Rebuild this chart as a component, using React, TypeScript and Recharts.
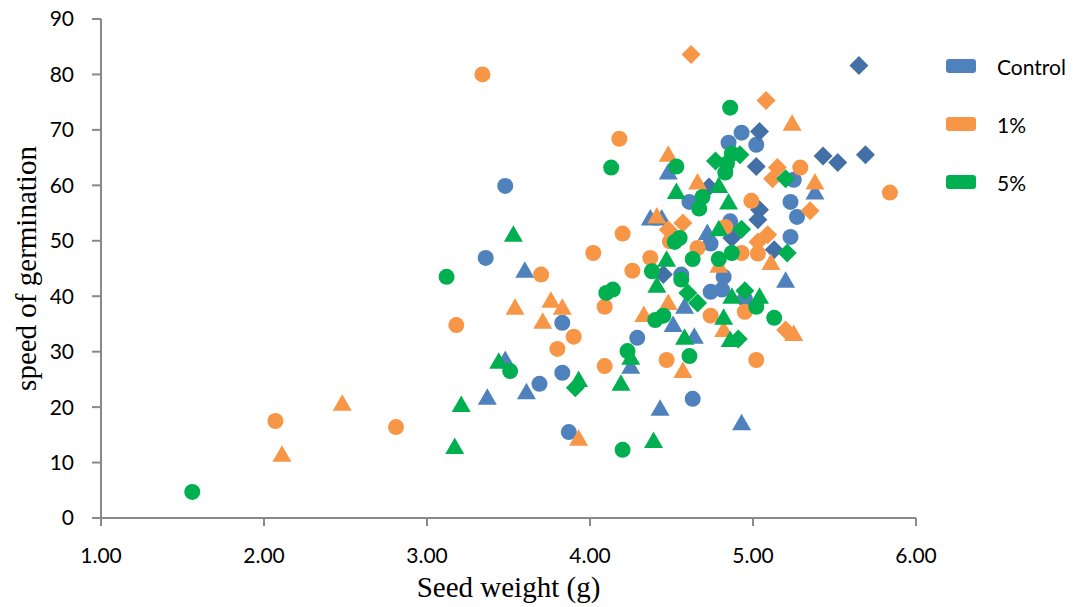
import React from "react";
import { ScatterChart, Scatter, XAxis, YAxis, Legend } from "recharts";

// ---- data: [seed weight (g), speed of germination] ----
const controlCircles = [
  [3.48, 59.9], [3.36, 46.9], [3.83, 35.2], [3.83, 26.2], [3.69, 24.2], [3.87, 15.5],
  [4.29, 32.5], [4.63, 21.5], [4.61, 57.0], [4.93, 69.5], [4.85, 67.7], [5.02, 67.3],
  [5.25, 61.0], [5.23, 57.0], [5.27, 54.3], [5.23, 50.7], [4.82, 43.5], [4.74, 40.8],
  [4.81, 41.2], [4.56, 43.9], [4.86, 53.5], [4.95, 39.5], [4.74, 49.5],
];
const controlTriangles = [
  [4.48, 62.3], [3.6, 44.6], [4.37, 54.0], [4.44, 54.0], [4.72, 51.4], [4.51, 34.8],
  [4.25, 27.3], [3.48, 28.5], [3.61, 22.7], [3.37, 21.7], [4.43, 19.7], [4.93, 17.1],
  [5.2, 42.8], [5.38, 58.7], [4.58, 38.1], [4.64, 32.7],
];
const controlDiamonds = [
  [5.65, 81.6], [5.04, 69.7], [5.43, 65.3], [5.52, 64.1], [5.69, 65.5], [5.02, 63.4],
  [4.73, 59.7], [5.04, 55.6], [5.03, 53.8], [4.87, 50.5], [5.13, 48.4], [4.45, 43.9],
];
const onePctCircles = [
  [2.07, 17.5], [2.81, 16.4], [3.34, 80.0], [4.18, 68.4], [3.7, 43.9], [4.02, 47.8],
  [4.2, 51.3], [4.37, 46.9], [4.26, 44.6], [4.09, 38.1], [3.18, 34.8], [3.9, 32.7],
  [3.8, 30.5], [4.47, 28.5], [4.09, 27.4], [4.99, 57.2], [5.29, 63.2], [5.84, 58.7],
  [4.83, 52.5], [5.03, 47.7], [4.93, 47.8], [4.66, 48.7], [4.95, 37.2], [4.74, 36.5],
  [5.02, 28.5], [4.49, 49.9],
];
const onePctTriangles = [
  [2.11, 11.4], [2.48, 20.6], [4.48, 65.5], [5.24, 71.1], [4.41, 54.4], [3.76, 39.2],
  [3.83, 37.9], [3.54, 37.9], [3.71, 35.4], [4.33, 36.6], [4.48, 38.8], [3.93, 14.3],
  [4.66, 60.5], [5.38, 60.5], [5.11, 46.0], [4.79, 45.5], [4.82, 33.9], [5.25, 33.2],
  [4.57, 26.5],
];
const onePctDiamonds = [
  [4.62, 83.6], [5.08, 75.3], [5.15, 63.2], [5.12, 61.2], [5.35, 55.4], [4.57, 53.2],
  [4.48, 52.0], [5.09, 51.1], [5.03, 49.8], [5.2, 33.9],
];
const fivePctCircles = [
  [1.56, 4.7], [3.12, 43.5], [3.51, 26.5], [4.13, 63.2], [4.53, 63.4], [4.1, 40.6],
  [4.14, 41.2], [4.38, 44.5], [4.4, 35.7], [4.45, 36.5], [4.23, 30.1], [4.2, 12.3],
  [4.86, 74.0], [4.87, 65.7], [4.84, 63.9], [4.83, 62.3], [4.69, 57.9], [4.67, 55.8],
  [4.55, 50.5], [4.52, 49.8], [4.87, 47.8], [4.79, 46.7], [4.63, 46.7], [4.56, 43.0],
  [5.02, 38.1], [5.13, 36.1], [4.61, 29.2],
];
const fivePctTriangles = [
  [4.53, 58.8], [3.53, 51.1], [4.47, 46.6], [4.41, 41.9], [4.25, 28.9], [3.44, 28.2],
  [3.93, 24.9], [4.19, 24.2], [3.21, 20.4], [4.39, 13.9], [3.17, 12.8], [4.79, 59.9],
  [4.85, 56.9], [4.79, 52.1], [4.87, 39.9], [5.04, 39.9], [4.82, 36.1], [4.58, 32.5],
  [4.86, 32.1],
];
const fivePctDiamonds = [
  [4.92, 65.5], [4.77, 64.4], [5.2, 61.2], [4.93, 52.1], [5.21, 47.8], [4.95, 41.0],
  [4.6, 40.6], [4.66, 38.8], [4.91, 32.3], [3.91, 23.5],
];

const xTicks = [1, 2, 3, 4, 5, 6];
const yTicks = [0, 10, 20, 30, 40, 50, 60, 70, 80, 90];
const legendLabels = ["Control", "1%", "5%"];

const BLUE = "#4F81BD";
const BLUE_DARK = "#4470A8";
const ORANGE = "#F79646";
const GREEN = "#00B050";
const AXIS = "#898989";

const toPoints = (arr: number[][]) => arr.map(([x, y]) => ({ x, y }));

const makeShape = (kind: string, color: string) => (props: any) => {
  const { cx, cy } = props;
  if (cx == null || cy == null) return <g />;
  if (kind === "circle") return <circle cx={cx} cy={cy} r={8} fill={color} />;
  if (kind === "triangle")
    return (
      <polygon
        points={`${cx},${cy - 9.5} ${cx - 9.5},${cy + 7} ${cx + 9.5},${cy + 7}`}
        fill={color}
      />
    );
  return (
    <polygon
      points={`${cx},${cy - 9.5} ${cx + 9.5},${cy} ${cx},${cy + 9.5} ${cx - 9.5},${cy}`}
      fill={color}
    />
  );
};

const series = [
  { name: "Control-c", data: controlCircles, kind: "circle", color: BLUE },
  { name: "Control-t", data: controlTriangles, kind: "triangle", color: BLUE },
  { name: "Control-d", data: controlDiamonds, kind: "diamond", color: BLUE_DARK },
  { name: "1%-c", data: onePctCircles, kind: "circle", color: ORANGE },
  { name: "1%-t", data: onePctTriangles, kind: "triangle", color: ORANGE },
  { name: "1%-d", data: onePctDiamonds, kind: "diamond", color: ORANGE },
  { name: "5%-c", data: fivePctCircles, kind: "circle", color: GREEN },
  { name: "5%-t", data: fivePctTriangles, kind: "triangle", color: GREEN },
  { name: "5%-d", data: fivePctDiamonds, kind: "diamond", color: GREEN },
];

const legendColors = [BLUE, ORANGE, GREEN];

const renderLegend = () => (
  <div style={{ fontFamily: "Lato, 'Liberation Sans', sans-serif", fontSize: 21, color: "#000" }}>
    {legendLabels.map((label, i) => (
      <div
        key={label}
        style={{ display: "flex", alignItems: "center", height: 58 }}
      >
        <div
          style={{
            width: 30,
            height: 14,
            borderRadius: 3,
            background: legendColors[i],
            marginRight: 21,
          }}
        />
        <span>{label}</span>
      </div>
    ))}
  </div>
);

export default function App() {
  return (
    <div style={{ position: "absolute", left: 0, top: 0, width: 1076, height: 607, background: "#fff" }}>
      <ScatterChart
        width={1076}
        height={607}
        margin={{ top: 19, right: 160, bottom: 0, left: 0 }}
      >
        <XAxis
          type="number"
          dataKey="x"
          domain={[1, 6]}
          ticks={xTicks}
          allowDataOverflow
          tickFormatter={(v: number) => v.toFixed(2)}
          height={89}
          stroke={AXIS}
          strokeWidth={2}
          tickSize={8}
          tickMargin={22}
          tick={{ fill: "#000", fontSize: 21, fontFamily: "Lato, 'Liberation Sans', sans-serif" }}
          label={{
            value: "Seed weight (g)",
            position: "insideBottom",
            offset: 10,
            style: { fill: "#000", fontSize: 29, fontFamily: "'Liberation Serif', 'Times New Roman', serif" },
          }}
        />
        <YAxis
          type="number"
          dataKey="y"
          domain={[0, 90]}
          ticks={yTicks}
          allowDataOverflow
          width={101}
          stroke={AXIS}
          strokeWidth={2}
          tickSize={9}
          tickMargin={18}
          tick={{ fill: "#000", fontSize: 21, fontFamily: "Lato, 'Liberation Sans', sans-serif" }}
          label={{
            value: "speed of germination",
            angle: -90,
            position: "insideLeft",
            offset: 26,
            style: {
              textAnchor: "middle",
              fill: "#000",
              fontSize: 29,
              fontFamily: "'Liberation Serif', 'Times New Roman', serif",
            },
          }}
        />
        <Legend
          layout="vertical"
          align="center"
          verticalAlign="middle"
          content={renderLegend}
          wrapperStyle={{ left: 946, top: 37, width: 130, height: 180 }}
        />
        {series.map((s) => (
          <Scatter
            key={s.name}
            name={s.name}
            data={toPoints(s.data)}
            fill={s.color}
            shape={makeShape(s.kind, s.color)}
            isAnimationActive={false}
            legendType="none"
          />
        ))}
      </ScatterChart>
    </div>
  );
}
